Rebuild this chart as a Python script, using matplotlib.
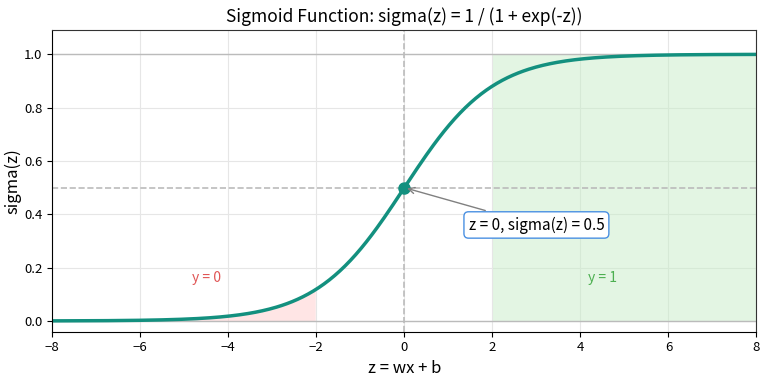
import numpy as np
import matplotlib.pyplot as plt

plt.rcParams['font.family'] = ['Noto Sans CJK JP', 'DejaVu Sans']

# the curve is the function named in the title
z = np.linspace(-8, 8, 400)
sigma = 1 / (1 + np.exp(-z))

x_ticks = [-8, -6, -4, -2, 0, 2, 4, 6, 8]
y_ticks = [0.0, 0.2, 0.4, 0.6, 0.8, 1.0]
point_z, point_s = 0, 0.5

fig, ax = plt.subplots(figsize=(7.68, 3.79), dpi=100)
fig.subplots_adjust(left=0.068, right=0.985, top=0.92, bottom=0.125)

ax.grid(True, color='#e6e6e6', lw=0.8)
ax.set_axisbelow(True)
ax.axhline(0, color='#bbbbbb', lw=1)
ax.axhline(1, color='#bbbbbb', lw=1)
ax.axhline(0.5, color='#bbbbbb', lw=1.2, ls='--')
ax.axvline(0, color='#bbbbbb', lw=1.2, ls='--')

left = z <= -2
ax.fill_between(z[left], 0, sigma[left], color='#ffcccc', alpha=0.5, lw=0)
right = z >= 2
ax.fill_between(z[right], 0, 1, color='#c8ecc8', alpha=0.5, lw=0)

ax.plot(z, sigma, color='#13907f', lw=2.5)
ax.plot(point_z, point_s, 'o', color='#13907f', ms=8)

ax.annotate('z = 0, sigma(z) = 0.5', xy=(point_z, point_s), xytext=(3.0, 0.36),
            ha='center', va='center', fontsize=11,
            bbox=dict(boxstyle='round,pad=0.3', fc='white', ec='#4a90e2', lw=1),
            arrowprops=dict(arrowstyle='->', color='gray', lw=1))

ax.text(-4.5, 0.16, 'y = 0', color='#e05555', fontsize=10, ha='center', va='center')
ax.text(4.5, 0.16, 'y = 1', color='#4caf50', fontsize=10, ha='center', va='center')

ax.set_xlim(-8, 8)
ax.set_ylim(-0.04, 1.09)
ax.set_xticks(x_ticks)
ax.set_yticks(y_ticks)
ax.tick_params(labelsize=9.5)
for s in ['top', 'right']:
    ax.spines[s].set_color('#333333')
ax.set_xlabel('z = wx + b', fontsize=12)
ax.set_ylabel('sigma(z)', fontsize=12, labelpad=2)
ax.set_title('Sigmoid Function: sigma(z) = 1 / (1 + exp(-z))', fontsize=12.5)

fig.savefig('out.png')
